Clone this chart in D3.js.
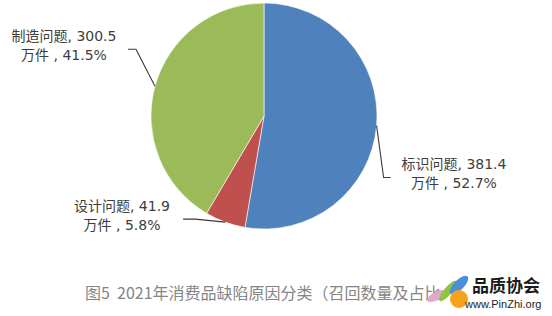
<!DOCTYPE html>
<html lang="zh">
<head>
<meta charset="UTF-8">
<title>2021年消费品缺陷原因分类</title>
<script src="https://d3js.org/d3.v7.min.js"></script>
<style>
  body { margin: 0; background: #fff; }
  svg { display: block; }
  .lbl { font-family: "DejaVu Sans", "Noto Sans CJK SC", sans-serif; font-size: 14px; fill: #3d3d3d; }
  .title { font-family: "Noto Sans CJK SC", sans-serif; font-size: 16px; fill: #858585; white-space: pre; }
</style>
</head>
<body>
<script>
// data
const categories = ["标识问题", "设计问题", "制造问题"];
const recalls = [381.4, 41.9, 300.5];      // 万件
const shares = ["52.7%", "5.8%", "41.5%"];
const colors = ["#4F81BD", "#C0504D", "#9BBB59"];

const width = 552, height = 316;
const cx = 264, cy = 116, r = 113;

const svg = d3.select("body").append("svg")
    .attr("width", width).attr("height", height);

const pie = d3.pie().sort(null).value(d => d)(recalls);
const arc = d3.arc().innerRadius(0).outerRadius(r);

const g = svg.append("g").attr("transform", `translate(${cx},${cy})`);
g.selectAll("path")
    .data(pie)
    .enter().append("path")
    .attr("d", arc)
    .attr("fill", (d, i) => colors[i])
    .attr("stroke", "#fff")
    .attr("stroke-width", 0.6);

// label placement (layout only)
const layout = [
    { tx: 454, ty: 169, elbow: [[7, 52], [14, 52]] },
    { tx: 122, ty: 211, elbow: [[-30, -3], [-42, -3]] },
    { tx: 64,  ty: 41,  elbow: [[-19, -37], [-27, -37]] }
];

pie.forEach((d, i) => {
    const a = (d.startAngle + d.endAngle) / 2;
    const x0 = Math.sin(a) * r, y0 = -Math.cos(a) * r;
    const pts = [[x0, y0]].concat(layout[i].elbow.map(p => [x0 + p[0], y0 + p[1]]));
    g.append("path")
        .attr("d", d3.line()(pts))
        .attr("fill", "none")
        .attr("stroke", "#3a3a3a")
        .attr("stroke-width", 1.1);

    const t = svg.append("text").attr("class", "lbl")
        .attr("text-anchor", "middle")
        .attr("x", layout[i].tx).attr("y", layout[i].ty);
    t.append("tspan").attr("x", layout[i].tx).attr("dy", 0)
        .text(`${categories[i]}, ${recalls[i]}`);
    t.append("tspan").attr("x", layout[i].tx).attr("dy", 19)
        .text(`万件 , ${shares[i]}`);
});

svg.append("text").attr("class", "title")
    .attr("x", 85).attr("y", 299)
    .text("图5  2021年消费品缺陷原因分类（召回数量及占比）");

// watermark logo
const logo = svg.append("g");
logo.append("rect").attr("x", 440).attr("y", 276).attr("width", 112).attr("height", 40).attr("fill", "#fff");
logo.append("ellipse").attr("cx", 436).attr("cy", 296).attr("rx", 4).attr("ry", 10)
    .attr("transform", "rotate(60,436,296)").attr("fill", "#e3a6cf");
logo.append("ellipse").attr("cx", 448).attr("cy", 291).attr("rx", 4).attr("ry", 13)
    .attr("transform", "rotate(40,448,291)").attr("fill", "#8cc63f");
logo.append("ellipse").attr("cx", 459).attr("cy", 285).attr("rx", 5).attr("ry", 12)
    .attr("transform", "rotate(45,459,285)").attr("fill", "#4a90d9");
logo.append("circle").attr("cx", 459).attr("cy", 299).attr("r", 9).attr("fill", "#f7a21b");
logo.append("text").attr("x", 472).attr("y", 292)
    .style("font-family", "Noto Sans CJK SC").style("font-weight", "bold")
    .style("font-size", "17px").attr("fill", "#1a1a1a").text("品质协会");
logo.append("text").attr("x", 465).attr("y", 308)
    .style("font-family", "Liberation Sans, Arial").style("font-size", "11px")
    .attr("fill", "#222").text("www.PinZhi.org");
</script>
</body>
</html>
